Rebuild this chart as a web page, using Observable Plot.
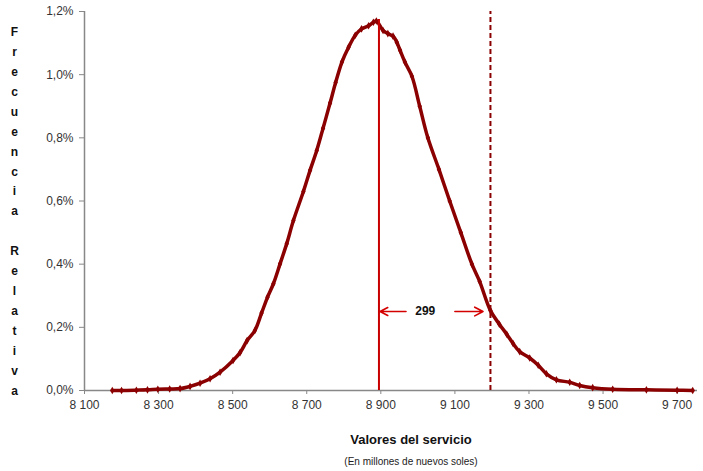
<!DOCTYPE html>
<html>
<head>
<meta charset="utf-8">
<script src="https://cdn.jsdelivr.net/npm/d3@7"></script>
<script src="https://cdn.jsdelivr.net/npm/@observablehq/plot@0.6"></script>
<style>
  html, body { margin: 0; padding: 0; background: #fff; }
  #chart { width: 703px; height: 471px; }
</style>
</head>
<body>
<div id="chart"></div>
<script>
// Valores del servicio (millones de nuevos soles)
const valores = [8175, 8200, 8240, 8270, 8298, 8330, 8358, 8385, 8412, 8439, 8466, 8501, 8520, 8539,
  8560, 8578, 8594, 8610, 8628, 8646, 8664, 8691, 8709, 8727, 8744, 8763, 8778, 8795, 8813, 8831,
  8848, 8867, 8880, 8888, 8906, 8919, 8933, 8943, 8952, 8965, 8984, 9005, 9027, 9057, 9086, 9116,
  9146, 9167, 9196, 9220, 9240, 9257, 9275, 9302, 9325, 9347, 9374, 9410, 9437, 9472, 9526, 9617,
  9700, 9742];
// Frecuencia relativa (%)
const frecuencias = [0.000, 0.000, 0.001, 0.002, 0.004, 0.005, 0.006, 0.013, 0.023, 0.037, 0.058, 0.095, 0.120, 0.158,
  0.190, 0.245, 0.295, 0.338, 0.401, 0.465, 0.538, 0.630, 0.697, 0.760, 0.830, 0.910, 0.975, 1.040, 1.087, 1.125,
  1.145, 1.155, 1.166, 1.170, 1.140, 1.130, 1.122, 1.103, 1.077, 1.040, 0.995, 0.900, 0.800, 0.700, 0.600, 0.500,
  0.400, 0.345, 0.253, 0.210, 0.178, 0.149, 0.123, 0.103, 0.080, 0.053, 0.034, 0.026, 0.016, 0.009, 0.004, 0.002,
  0.001, 0.000];
const xTicks = [8100, 8300, 8500, 8700, 8900, 9100, 9300, 9500, 9700];
const yTicks = [0, 0.2, 0.4, 0.6, 0.8, 1.0, 1.2];
const valorCentral = 8895;
const valorLimite = 9196;
const diferencia = "299";
const etiquetaX = 9020;
const nivelFlecha = 0.25;
const flechas = [
  {desde: 8968, hasta: 8898},
  {desde: 9100, hasta: 9176}
];
const tituloY = "Frecuencia Relativa";
const tituloX = "Valores del servicio";
const subtituloX = "(En millones de nuevos soles)";

const datos = valores.map((v, i) => ({valor: v, frec: frecuencias[i]}));
const fmtX = d => d3.format(",")(d).replace(",", " ");
const fmtY = d => d.toFixed(1).replace(".", ",") + "%";
const letrasY = tituloY.split("").join("\n");

const chart = Plot.plot({
  width: 703,
  height: 471,
  marginLeft: 84,
  marginRight: 6,
  marginTop: 11,
  marginBottom: 81,
  style: {fontFamily: "Liberation Sans, Arial, sans-serif", fontSize: "12px", color: "#333", background: "#fff"},
  x: {domain: [8100, 9755]},
  y: {domain: [0, 1.2]},
  marks: [
    Plot.axisX({ticks: xTicks, tickFormat: fmtX, tickSize: 4, tickPadding: 6, stroke: "#888", label: null, fontSize: 12}),
    Plot.axisY({ticks: yTicks, tickFormat: fmtY, tickSize: 5, tickPadding: 6, stroke: "#888", label: null, fontSize: 12}),
    Plot.ruleY([0], {stroke: "#888", strokeWidth: 1.5}),
    Plot.ruleX([8100], {stroke: "#888", strokeWidth: 1.5}),
    Plot.line(datos, {x: "valor", y: "frec", stroke: "#8b0000", strokeWidth: 3.5, curve: "catmull-rom"}),
    Plot.dot(datos, {x: "valor", y: "frec", symbol: "diamond", r: 2.3, fill: "#8b0000", stroke: "none"}),
    Plot.ruleX([valorCentral], {y1: 0, y2: 1.2, stroke: "#c80000", strokeWidth: 2, insetBottom: -8}),
    Plot.ruleX([valorLimite], {y1: 0, y2: 1.2, stroke: "#8b0000", strokeWidth: 2, strokeDasharray: "5,3"}),
    Plot.arrow(flechas, {x1: "desde", x2: "hasta", y1: () => nivelFlecha, y2: () => nivelFlecha,
      stroke: "#d40000", strokeWidth: 1.6, headLength: 13, headAngle: 55}),
    Plot.text([diferencia], {x: etiquetaX, y: nivelFlecha, text: d => d, fontWeight: "bold", fontSize: 12, fill: "#111"}),
    Plot.text([letrasY], {frameAnchor: "left", dx: -70, dy: 8, text: d => d, fontWeight: "bold", fontSize: 12,
      lineHeight: 1.66, textAnchor: "middle", fill: "#111"}),
    Plot.text([tituloX], {frameAnchor: "bottom", dx: 20, dy: 53, text: d => d, fontWeight: "bold", fontSize: 13, fill: "#111"}),
    Plot.text([subtituloX], {frameAnchor: "bottom", dx: 20, dy: 74, text: d => d, fontSize: 10, fill: "#222"})
  ]
});
document.getElementById("chart").appendChild(chart);
</script>
</body>
</html>
